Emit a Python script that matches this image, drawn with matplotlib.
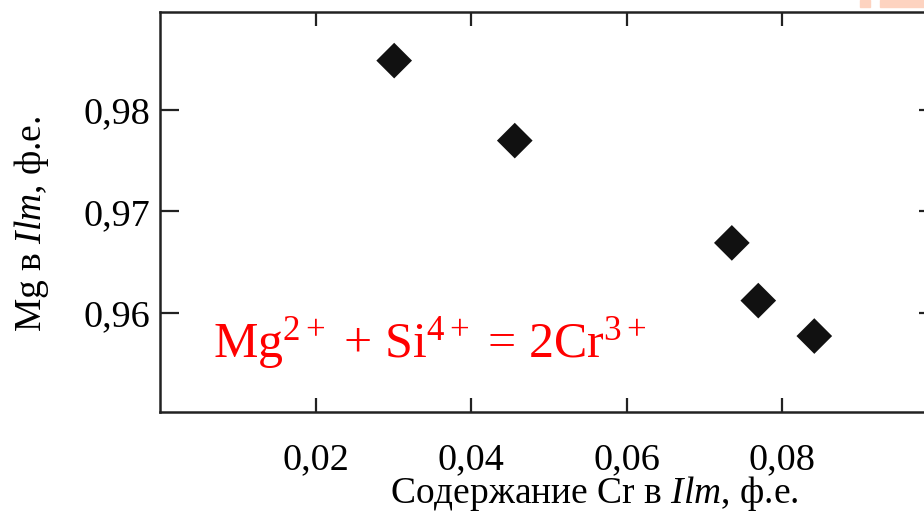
import matplotlib
matplotlib.use("Agg")
import matplotlib.pyplot as plt
from matplotlib.patches import Rectangle

plt.rcParams.update({"font.family": "Liberation Serif", "mathtext.fontset": "custom",
                     "mathtext.rm": "Liberation Serif", "mathtext.it": "Liberation Serif:italic"})

# data
cr = [0.0301, 0.0456, 0.0735, 0.0769, 0.0841]
mg = [0.9849, 0.9770, 0.9669, 0.9612, 0.9577]
xticks = [0.02, 0.04, 0.06, 0.08]
xlabels = ["0,02", "0,04", "0,06", "0,08"]
yticks = [0.96, 0.97, 0.98]
ylabels = ["0,96", "0,97", "0,98"]

W, H = 924, 513
fig = plt.figure(figsize=(W / 100, H / 100), dpi=100)
ax = fig.add_axes([160 / W, 1 - 412 / H, 778 / W, 400 / H])
ax.set_xlim(0, 0.1)
ax.set_ylim(0.9502, 0.9897)

ax.scatter(cr, mg, marker="D", s=330, color="#111111", edgecolors="none", zorder=3)

ax.set_xticks(xticks)
ax.set_xticklabels(xlabels)
ax.set_yticks(yticks)
ax.set_yticklabels(ylabels)
ax.tick_params(direction="in", top=True, right=True, labelsize=27.5, width=1.6, color="#222")
ax.tick_params(axis="x", length=10, pad=22)
ax.tick_params(axis="y", length=14, pad=7)
for s in ax.spines.values():
    s.set_linewidth(1.8)
    s.set_color("#222")

ax.set_xlabel(r"Содержание Cr в $\mathit{Ilm}$, ф.е.", fontsize=27)
ax.xaxis.set_label_coords(0.559, -0.228)
ax.xaxis.label.set_va("baseline")
ax.set_ylabel(r"Mg в $\mathit{Ilm}$, ф.е.", fontsize=27)
ax.yaxis.set_label_coords(-0.14, 0.47)

ax.text(0.0068, 0.9556, r"Mg$^{2+}$ + Si$^{4+}$ = 2Cr$^{3+}$",
        color="#ff0000", fontsize=36, ha="left", va="baseline")

# pale scan artefact at top right
for x0, w in [(860, 10), (880, 44)]:
    fig.patches.append(Rectangle((x0 / W, 1 - 7 / H), w / W, 7 / H, transform=fig.transFigure,
                                 color="#fdd3c0", zorder=0))

fig.savefig("out.png", dpi=100)
